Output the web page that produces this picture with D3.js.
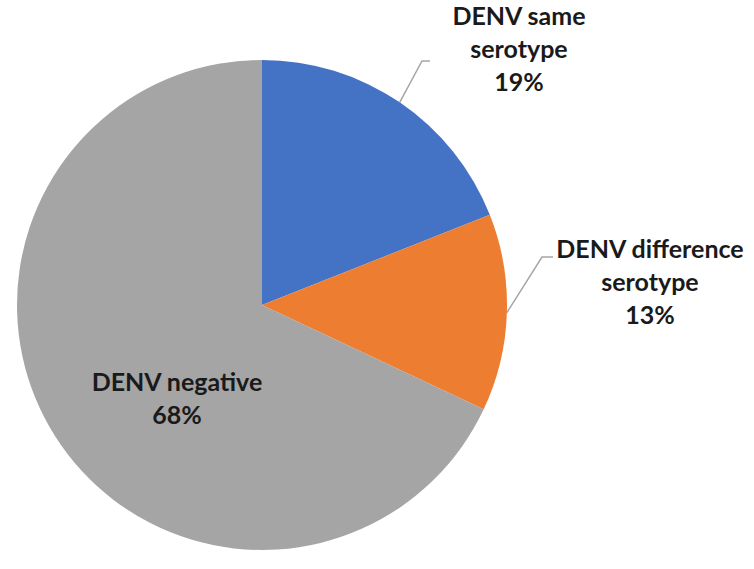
<!DOCTYPE html>
<html>

<head>
    <meta charset="utf-8">
    <title>DENV pie</title>
    <script src="https://cdnjs.cloudflare.com/ajax/libs/d3/7.8.5/d3.min.js"></script>
    <style>
        body { margin: 0; background: #fff; }
        text { font-family: Lato, "Open Sans", sans-serif; font-weight: bold; fill: #1a1a1a; }
    </style>
</head>

<body>
    <script>
        var categories = ["DENV same serotype", "DENV difference serotype", "DENV negative"];
        var values = [19, 13, 68];
        var colors = ["#4472C4", "#ED7D31", "#A5A5A5"];
        var labelLines = [["DENV same", "serotype", "19%"], ["DENV difference", "serotype", "13%"], ["DENV negative", "68%"]];

        var w = 754, h = 569, cx = 262, cy = 305, r = 245;
        var fontSize = 25, lineGap = 33;

        // where each label sits (centre x, first baseline) and its leader elbow, if any
        var labelPos = [
            { x: 519, y: 25, elbow: [[422, 61], [430, 61]] },
            { x: 650, y: 258, elbow: [[542, 257], [553, 257]] },
            { x: 177, y: 391, elbow: null }
        ];

        var data = categories.map(function(c, i) { return { name: c, value: values[i], i: i }; });

        var svg = d3.select("body")
            .append("svg")
            .attr("width", w)
            .attr("height", h);

        var g = svg.append("g")
            .attr("transform", "translate(" + cx + "," + cy + ")");

        var pie = d3.pie()
            .sort(null)
            .value(function(d) { return d.value; });

        var arc = d3.arc().innerRadius(0).outerRadius(r);
        var edge = d3.arc().innerRadius(r).outerRadius(r);

        var arcs = pie(data);

        g.selectAll("path.slice")
            .data(arcs)
            .enter()
            .append("path")
            .attr("class", "slice")
            .attr("d", arc)
            .attr("fill", function(d) { return colors[d.data.i]; });

        // leader lines from slice edge to label
        arcs.forEach(function(a, i) {
            var p = labelPos[i];
            if (!p.elbow) return;
            var s = edge.centroid(a);
            var pts = [[s[0] + cx, s[1] + cy]].concat(p.elbow);
            svg.append("path")
                .attr("d", d3.line()(pts))
                .attr("fill", "none")
                .attr("stroke", "#A6A6A6")
                .attr("stroke-width", 1.5);
        });

        labelLines.forEach(function(lines, i) {
            var p = labelPos[i];
            var t = svg.append("text")
                .attr("text-anchor", "middle")
                .attr("font-size", fontSize);
            lines.forEach(function(l, j) {
                t.append("tspan")
                    .attr("x", p.x)
                    .attr("y", p.y + j * lineGap)
                    .text(l);
            });
        });
    </script>
</body>

</html>
